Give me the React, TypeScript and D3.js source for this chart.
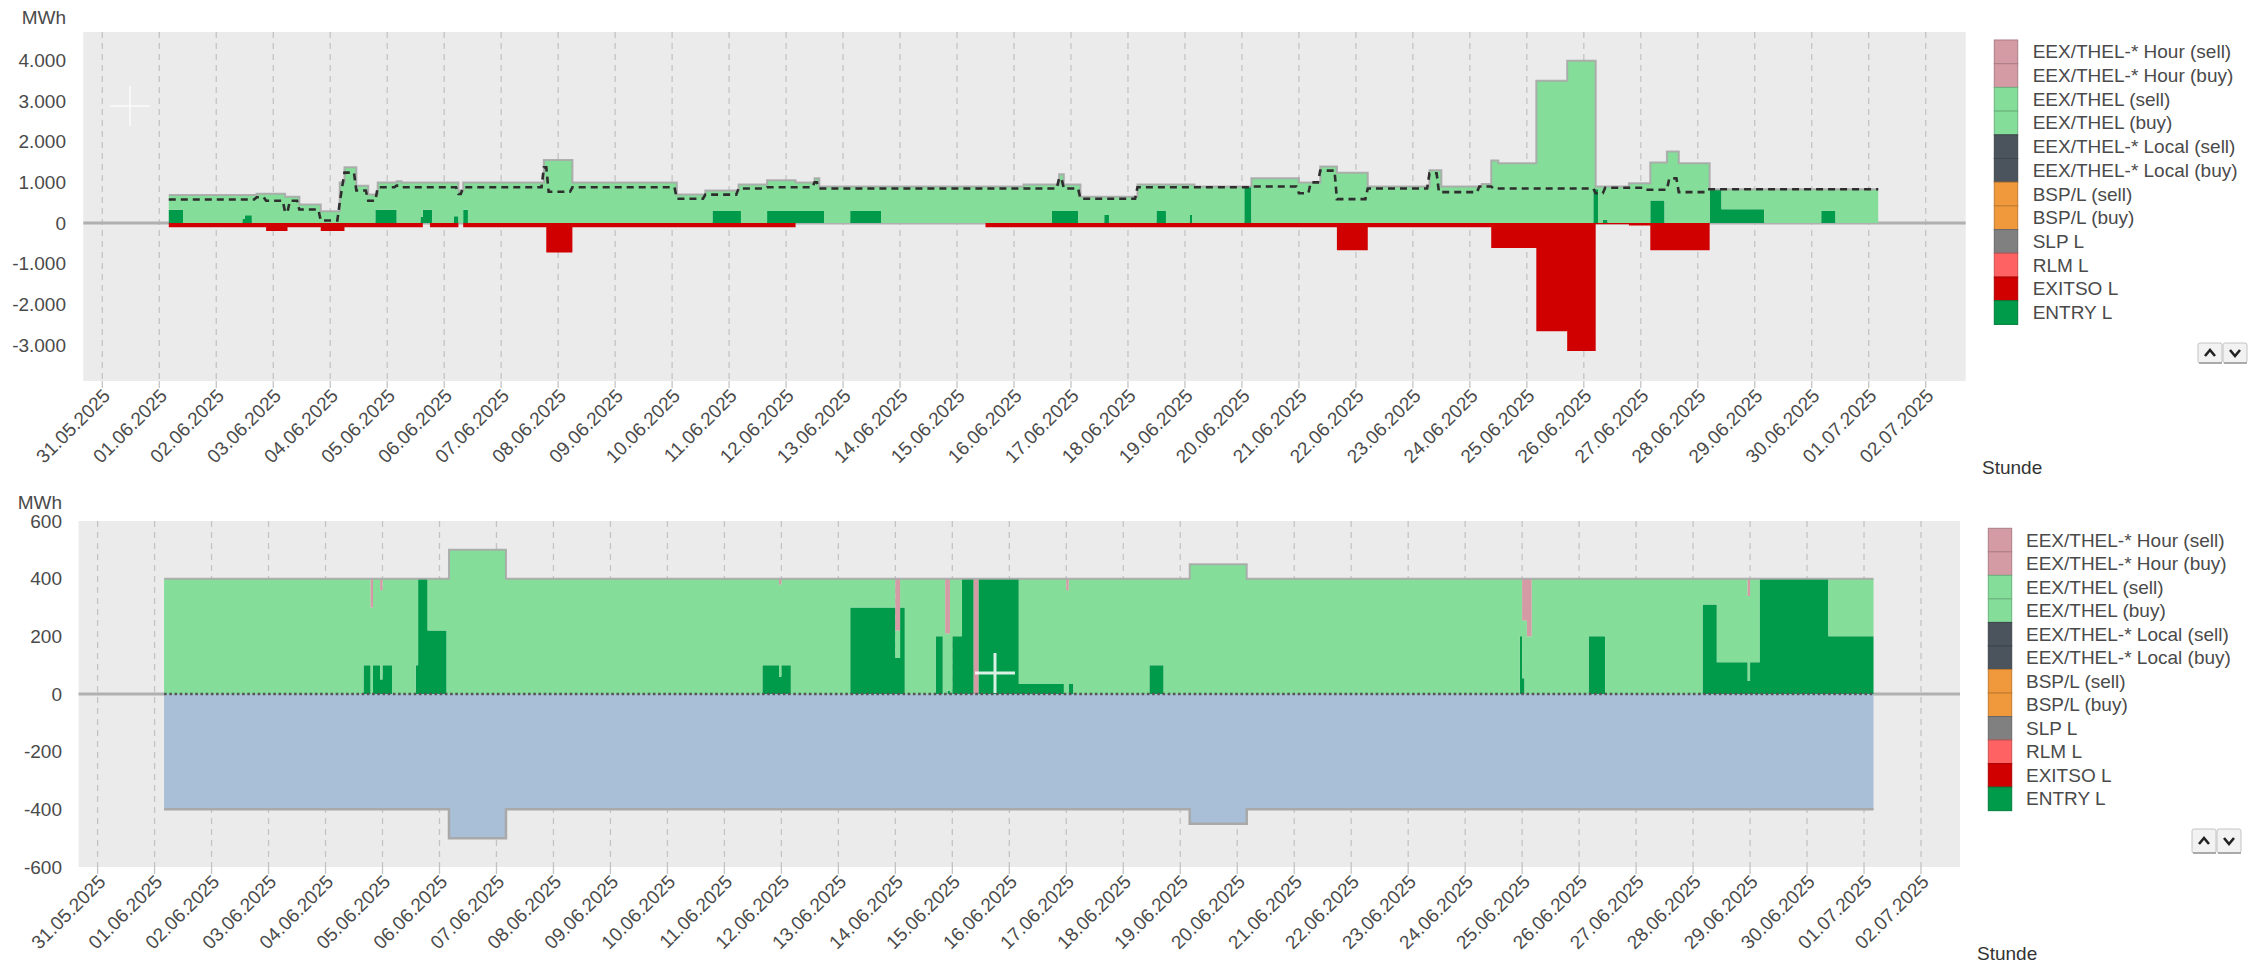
import React from "react";
import * as d3 from "d3";

// ---------- time frame ----------
const AXIS_START = Date.UTC(2025, 4, 31); // 31.05.2025
const AXIS_END = Date.UTC(2025, 6, 2); // 02.07.2025
const DATA_START = Date.UTC(2025, 5, 1, 4); // first hour of data
const HOURS = 720;

// ---------- tick labels ----------
const topYTicks = [-3000, -2000, -1000, 0, 1000, 2000, 3000, 4000];
const bottomYTicks = [-600, -400, -200, 0, 200, 400, 600];
const unitLabel = "MWh";
const xTitle = "Stunde";

// ---------- legend ----------
const legendNames = [
  "EEX/THEL-* Hour (sell)",
  "EEX/THEL-* Hour (buy)",
  "EEX/THEL (sell)",
  "EEX/THEL (buy)",
  "EEX/THEL-* Local (sell)",
  "EEX/THEL-* Local (buy)",
  "BSP/L (sell)",
  "BSP/L (buy)",
  "SLP L",
  "RLM L",
  "EXITSO L",
  "ENTRY L",
];
const legendColors = [
  "#d49ba5", "#d49ba5", "#84dd99", "#84dd99", "#4b545c", "#4b545c",
  "#ef983c", "#ef983c", "#808080", "#ff6262", "#d10000", "#009b4a",
];

// ---------- series (step lists: [hour from data start, value]) ----------
// top chart
const topEntryL: [number, number][] = [
  [0, 330], [6, 0], [31, 100], [32, 190], [35, 0], [87, 330], [96, 0], [106, 150], [107, 330], [111, 0],
  [120, 170], [122, 0], [124, 330], [126, 0], [229, 300], [241, 0], [252, 300], [276, 0], [287, 300], [300, 0],
  [372, 300], [383, 0], [394, 200], [396, 0], [416, 300], [420, 0], [430, 200], [431, 0], [453, 900], [456, 0],
  [600, 833], [602, 0], [604, 80], [606, 0], [624, 555], [630, 0], [649, 833], [654, 343], [672, 0],
  [696, 302], [702, 0],
];
const topEexThel: [number, number][] = [
  [0, 360], [6, 690], [31, 590], [32, 500], [35, 690], [37, 720], [49, 650], [55, 455], [64, 290], [72, 1000],
  [74, 1370], [79, 920], [84, 700], [87, 370], [88, 670], [96, 1030], [98, 1000], [106, 850], [107, 670],
  [111, 1000], [120, 830], [122, 800], [124, 670], [126, 1000], [158, 1550], [170, 1000], [214, 700], [226, 800],
  [229, 500], [240, 650], [241, 950], [252, 750], [264, 700], [272, 800], [274, 600], [276, 900], [287, 600],
  [300, 900], [360, 950], [372, 650], [375, 900], [377, 650], [383, 950], [384, 650], [394, 450], [396, 650],
  [408, 950], [416, 650], [420, 950], [430, 750], [431, 950], [432, 900], [453, 0], [456, 1100], [476, 1000],
  [485, 1390], [492, 1240], [505, 900], [531, 1300], [536, 900], [553, 960], [557, 1540], [560, 1470],
  [576, 3500], [589, 3990], [600, 3157], [601, 67], [602, 900], [604, 820], [606, 900], [615, 980],
  [624, 935], [630, 1490], [631, 1760], [636, 1470], [649, 0], [654, 490], [672, 833], [696, 531], [702, 833],
];
const topExitsoL: [number, number][] = [
  [0, -100], [41, -195], [50, -100], [64, -195], [74, -100], [107, 0], [110, -100], [122, 0], [124, -100],
  [159, -720], [170, -100], [264, 0], [344, -100], [492, -670], [505, -100], [557, -613], [576, -2655],
  [589, -3145], [601, -30], [615, -60], [624, -670], [649, 0],
];
const topDashed: [number, number][] = [
  [0, 580], [37, 634], [41, 550], [49, 270], [51, 550], [55, 333], [64, 65], [72, 500], [73, 880], [74, 1240],
  [79, 800], [84, 550], [88, 880], [96, 920], [98, 880], [122, 715], [124, 880], [158, 1370], [160, 770],
  [170, 880], [214, 600], [226, 700], [240, 850], [252, 880], [272, 1000], [274, 850], [375, 1100], [377, 850],
  [384, 600], [408, 880], [456, 900], [476, 735], [481, 1000], [485, 1290], [492, 590], [505, 850],
  [531, 1225], [535, 760], [552, 900], [558, 850], [601, 735], [605, 870], [622, 820], [632, 1100],
  [636, 760], [648, 833],
];

// bottom chart
const botEntryL: [number, number][] = [
  [84, 100], [87, 0], [88, 100], [91, 50], [92, 100], [96, 0], [106, 100], [107, 400], [111, 220], [119, 0],
  [252, 100], [259, 60], [260, 100], [264, 0], [289, 300], [308, 125], [310, 300], [312, 0], [325, 200],
  [328, 0], [330, 10], [331, 0], [332, 200], [336, 400], [341, 0], [343, 400], [360, 35], [379, 0], [381, 35],
  [383, 0], [415, 100], [421, 0], [571, 200], [572, 55], [573, 0], [600, 200], [607, 0], [648, 310],
  [654, 110], [667, 45], [668, 110], [672, 400], [701, 200],
];
const botEexThel: [number, number][] = [
  [0, 400], [84, 300], [87, 300], [91, 310], [92, 300], [96, 400], [106, 300], [107, 0], [111, 180],
  [119, 400], [120, 500], [144, 400], [252, 300], [259, 320], [260, 300], [264, 400], [289, 100], [308, 95],
  [310, 100], [312, 400], [325, 200], [328, 400], [329, 210], [330, 200], [331, 400], [332, 200], [336, 0],
  [360, 365], [379, 400], [380, 360], [381, 365], [383, 400], [415, 300], [421, 400], [432, 450], [456, 400],
  [571, 200], [573, 255], [574, 200], [576, 400], [600, 200], [607, 400], [648, 90], [654, 290], [667, 295],
  [668, 290], [672, 0], [701, 200],
];
const botHour: [number, number][] = [
  [87, 100], [88, 0], [91, 40], [92, 0], [259, 20], [260, 0], [308, 180], [310, 0], [329, 190], [331, 0],
  [341, 400], [343, 0], [380, 40], [381, 0], [572, 145], [574, 200], [576, 0], [667, 60], [668, 0],
];
const botSell: [number, number][] = [
  [0, -400], [120, -500], [144, -400], [432, -450], [456, -400],
];

// ---------- helpers ----------
function expand(steps: [number, number][]): number[] {
  const out = new Array(HOURS).fill(0);
  for (let i = 0; i < steps.length; i++) {
    const [h, v] = steps[i];
    const end = i + 1 < steps.length ? steps[i + 1][0] : HOURS;
    for (let k = h; k < end && k < HOURS; k++) out[k] = v;
  }
  return out;
}
const hourDate = (k: number) => new Date(DATA_START + k * 3600000);

const deLocale = d3.formatLocale({ decimal: ",", thousands: ".", grouping: [3], currency: ["", "€"], minus: "-" });
const fmtNum = deLocale.format(",d");
const fmtDate = d3.utcFormat("%d.%m.%Y");
const dateTicks = d3.utcDay.range(new Date(AXIS_START), new Date(AXIS_END + 1));

const FONT = "'Liberation Sans', Arial, Helvetica, sans-serif";
const TXT = "#4a4a4a";

type Layout = {
  left: number; right: number; top: number; bottom: number;
  xA: number; xB: number; yMin: number; yMax: number; yMinPx: number; yMaxPx: number;
  labelX: number; mwhY: number; stundeX: number; stundeY: number;
  legendX: number; legendY: number; legendRow: number; textX: number;
  btnX: number; btnY: number; btnH: number;
};

type SeriesDef = { key: string; steps: [number, number][]; color: string };

function Legend({ L }: { L: Layout }) {
  return (
    <g>
      {legendNames.map((n, i) => (
        <g key={n}>
          <rect x={L.legendX} y={L.legendY + i * L.legendRow} width={23.4} height={L.legendRow}
            fill={legendColors[i]} stroke={d3.color(legendColors[i])!.darker(0.6).formatHex()} strokeWidth={1} />
          <text x={L.textX} y={L.legendY + i * L.legendRow + L.legendRow / 2} dominantBaseline="central"
            fontSize={19} fill={TXT}>{n}</text>
        </g>
      ))}
      {[0, 1].map((b) => {
        const bx = L.btnX + b * 25;
        const cx = bx + 12;
        const cy = L.btnY + L.btnH / 2;
        return (
          <g key={b}>
            <rect x={bx} y={L.btnY} width={24} height={L.btnH} rx={2} fill="#f2f2f2" stroke="#c4c4c4" />
            <line x1={bx + 1} x2={bx + 24} y1={L.btnY + L.btnH} y2={L.btnY + L.btnH} stroke="#999" strokeWidth={1.5} />
            <path d={b === 0 ? `M${cx - 5},${cy + 3}L${cx},${cy - 3}L${cx + 5},${cy + 3}` : `M${cx - 5},${cy - 3}L${cx},${cy + 3}L${cx + 5},${cy - 3}`}
              fill="none" stroke="#222" strokeWidth={2.6} />
          </g>
        );
      })}
    </g>
  );
}

function Panel({ L, positive, negative, dashed, dotted, cross }: {
  L: Layout; positive: SeriesDef[]; negative: SeriesDef[]; dashed?: [number, number][]; dotted?: boolean;
  cross: { x: number; y: number; w: number };
}) {
  const x = d3.scaleUtc().domain([new Date(AXIS_START), new Date(AXIS_END)]).range([L.xA, L.xB]);
  const y = d3.scaleLinear().domain([L.yMin, L.yMax]).range([L.yMinPx, L.yMaxPx]);
  const all = [...positive, ...negative];
  const cols = all.map((s) => expand(s.steps));
  const rows = d3.range(HOURS + 1).map((k) => {
    const r: Record<string, number> = {};
    all.forEach((s, j) => (r[s.key] = cols[j][Math.min(k, HOURS - 1)]));
    return r;
  });
  const stacked = d3.stack<Record<string, number>>().keys(all.map((s) => s.key)).offset(d3.stackOffsetDiverging)(rows);
  const area = d3.area<d3.SeriesPoint<Record<string, number>>>()
    .curve(d3.curveStepAfter)
    .x((_, i) => x(hourDate(i)))
    .y0((d) => y(d[0]))
    .y1((d) => y(d[1]));
  const posTop = rows.map((r) => positive.reduce((a, s) => a + Math.max(0, r[s.key]), 0));
  const negBot = rows.map((r) => negative.reduce((a, s) => a + Math.min(0, r[s.key]), 0));
  const stepLine = d3.line<number>().curve(d3.curveStepAfter).x((_, i) => x(hourDate(i))).y((v) => y(v));
  const line = d3.line<number>().x((_, i) => x(hourDate(i))).y((v) => y(v));
  const zeroY = y(0);
  const w = L.right - L.left;
  const dashVals = dashed ? expand(dashed) : [];

  return (
    <g>
      <rect x={L.left} y={L.top} width={w} height={L.bottom - L.top} fill="#ebebeb" />
      {dateTicks.map((t, i) => (
        <g key={i}>
          <line x1={x(t)} x2={x(t)} y1={L.top} y2={L.bottom} stroke="#c4c4c4" strokeWidth={1.3} strokeDasharray="6,5" />
          <line x1={x(t)} x2={x(t)} y1={L.bottom} y2={L.bottom + 7} stroke="#c4c4c4" strokeWidth={1.3} />
          <text transform={`translate(${x(t) + 9},${L.bottom + 16}) rotate(-45)`} textAnchor="end" fontSize={19}
            fill={TXT}>{fmtDate(t)}</text>
        </g>
      ))}
      <line x1={L.left} x2={L.right} y1={zeroY} y2={zeroY} stroke="#b0b0b0" strokeWidth={3} />
      {stacked.map((s, j) => (
        <path key={s.key} d={area(s) || ""} fill={all[j].color} />
      ))}
      <path d={stepLine(posTop) || ""} fill="none" stroke="#a9a9a9" strokeWidth={2} strokeOpacity={0.9} />
      {dotted && (
        <path d={stepLine(negBot) || ""} fill="none" stroke="#a9a9a9" strokeWidth={2.5} />
      )}
      {dashed && (
        <path d={line(dashVals.concat([dashVals[HOURS - 1]])) || ""} fill="none" stroke="#2e2e2e"
          strokeWidth={2.6} strokeDasharray="7,5" />
      )}
      {dotted && (
        <line x1={x(hourDate(0))} x2={x(hourDate(HOURS))} y1={zeroY} y2={zeroY} stroke="#555" strokeWidth={2.6}
          strokeDasharray="2.6,2.6" />
      )}
      <g stroke="#ffffff" strokeWidth={cross.w} opacity={0.85}>
        <line x1={cross.x - 20} x2={cross.x + 20} y1={cross.y} y2={cross.y} />
        <line x1={cross.x} x2={cross.x} y1={cross.y - 20} y2={cross.y + 20} />
      </g>
      {(L.yMin === -600 ? bottomYTicks : topYTicks).map((v) => (
        <text key={v} x={L.labelX} y={y(v)} textAnchor="end" dominantBaseline="central" fontSize={19} fill={TXT}>
          {fmtNum(v)}
        </text>
      ))}
      <text x={L.labelX} y={L.mwhY} textAnchor="end" dominantBaseline="central" fontSize={19} fill={TXT}>{unitLabel}</text>
      <text x={L.stundeX} y={L.stundeY} dominantBaseline="central" fontSize={19} fill="#333">{xTitle}</text>
      <Legend L={L} />
    </g>
  );
}

const topLayout: Layout = {
  left: 83.3, right: 1965.7, top: 32, bottom: 381, xA: 102.3, xB: 1925.7,
  yMin: -3000, yMax: 4000, yMinPx: 345.2, yMaxPx: 60.3,
  labelX: 66, mwhY: 17, stundeX: 1982, stundeY: 467,
  legendX: 1994.3, legendY: 40, legendRow: 23.7, textX: 2032.7,
  btnX: 2198, btnY: 343, btnH: 20,
};
const bottomLayout: Layout = {
  left: 78.6, right: 1960, top: 521, bottom: 867, xA: 97.6, xB: 1921,
  yMin: -600, yMax: 600, yMinPx: 867, yMaxPx: 521,
  labelX: 62, mwhY: 502, stundeX: 1977, stundeY: 953,
  legendX: 1988.3, legendY: 528.3, legendRow: 23.53, textX: 2026,
  btnX: 2192, btnY: 829, btnH: 24,
};

export default function App() {
  return (
    <svg width={2262} height={964} style={{ position: "fixed", left: 0, top: 0, background: "#fff" }}
      fontFamily={FONT}>
      <Panel L={topLayout}
        positive={[
          { key: "entry", steps: topEntryL, color: "#009b4a" },
          { key: "thel", steps: topEexThel, color: "#84dd99" },
        ]}
        negative={[{ key: "exitso", steps: topExitsoL, color: "#d10000" }]}
        dashed={topDashed}
        cross={{ x: 130, y: 106, w: 1.5 }}
      />
      <Panel L={bottomLayout}
        positive={[
          { key: "entry", steps: botEntryL, color: "#009b4a" },
          { key: "thel", steps: botEexThel, color: "#84dd99" },
          { key: "hour", steps: botHour, color: "#d49ba5" },
        ]}
        negative={[{ key: "sell", steps: botSell, color: "#a9bfd7" }]}
        dotted
        cross={{ x: 995, y: 673, w: 3 }}
      />
    </svg>
  );
}
